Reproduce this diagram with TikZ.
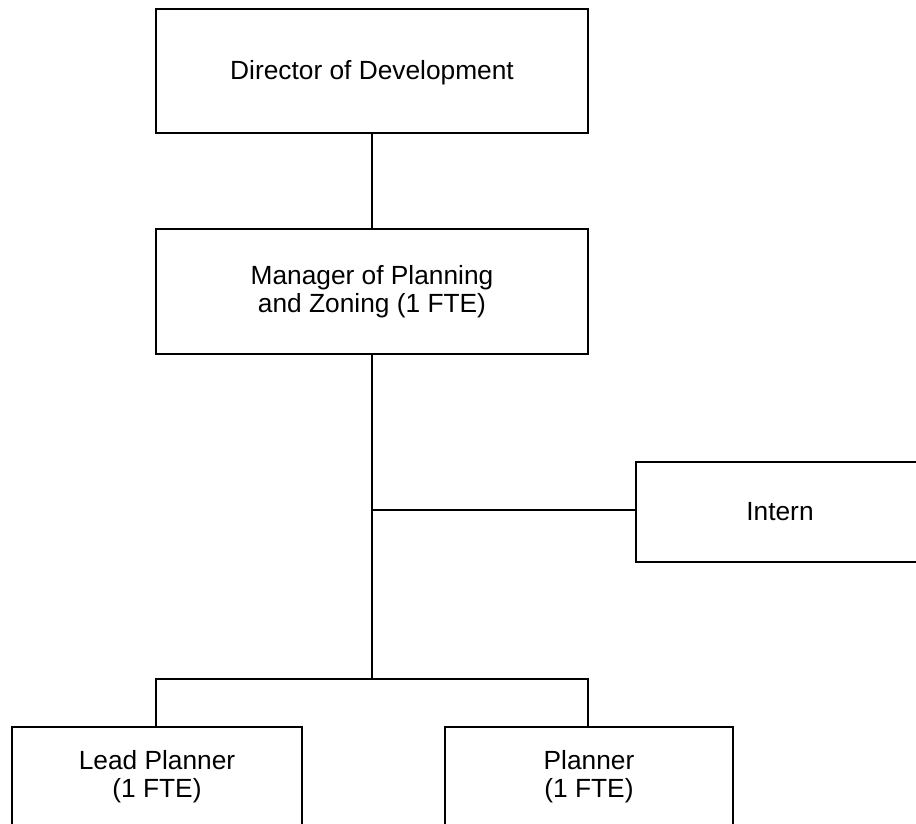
\documentclass[tikz,border=0pt]{standalone}
\usepackage{fontspec}
\setmainfont{Liberation Sans}
\begin{document}
\begin{tikzpicture}[x=1pt,y=-1pt,
  orgbox/.style={draw, line width=2.5pt, rectangle, inner sep=0pt, align=center,
    font=\fontsize{26.3pt}{27.8pt}\selectfont},
  link/.style={line width=2.5pt, line join=miter}]
\useasboundingbox (0,0) rectangle (916,823);
\fill[white] (0,0) rectangle (916,823);
\clip (0,0) rectangle (916,823);

% org chart boxes
\node[orgbox, minimum width=432pt, minimum height=124pt] (dir) at (372,71)
  {\raisebox{-1.5pt}[\height][\depth]{Director of Development}};
\node[orgbox, minimum width=432pt, minimum height=125pt] (mgr) at (372,291.5)
  {Manager of Planning\\and Zoning (1 FTE)};
\node[orgbox, minimum width=288pt, minimum height=100pt] (intern) at (780,512) {Intern};
\node[orgbox, minimum width=290pt, minimum height=100pt] (lead) at (157,777)
  {Lead Planner\\(1 FTE)};
\node[orgbox, minimum width=288pt, minimum height=100pt] (planner) at (589,777)
  {Planner\\(1 FTE)};

% branch points of the connectors
\coordinate (tee) at (372,510);
\coordinate (bus) at (372,679);
\coordinate (busL) at (156,679);
\coordinate (busR) at (588,679);

% connectors
\draw[link] (dir.south) -- (mgr.north);
\draw[link] (mgr.south) -- (bus);
\draw[link] (tee) -- (tee -| intern.west);
\draw[link] (busL |- lead.north) -- (busL) -- (busR) -- (busR |- planner.north);
\end{tikzpicture}
\end{document}
